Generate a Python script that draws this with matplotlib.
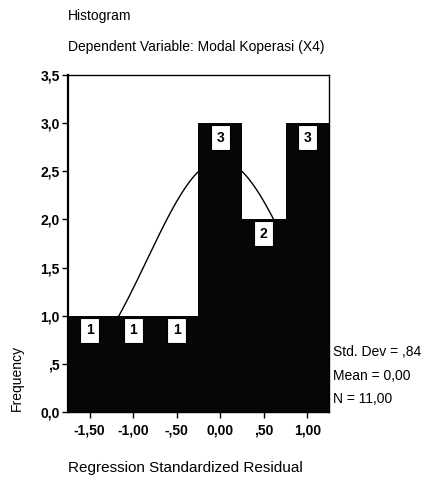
import numpy as np
import matplotlib
matplotlib.use("Agg")
import matplotlib.pyplot as plt

plt.rcParams['font.family'] = ['Liberation Sans', 'DejaVu Sans']

# Histogram of regression standardized residuals
bin_centers = [-1.50, -1.00, -0.50, 0.00, 0.50, 1.00]
counts = [1, 1, 1, 3, 2, 3]
bin_width = 0.5

std_dev = 0.84
mean = 0.00
n_obs = 11

y_ticks = [0.0, 0.5, 1.0, 1.5, 2.0, 2.5, 3.0, 3.5]
y_tick_labels = ["0,0", ",5", "1,0", "1,5", "2,0", "2,5", "3,0", "3,5"]
x_ticks = [-1.50, -1.00, -0.50, 0.00, 0.50, 1.00]
x_tick_labels = ["-1,50", "-1,00", "-,50", "0,00", ",50", "1,00"]

fig = plt.figure(figsize=(4.24, 4.79), dpi=100)
ax = fig.add_axes([68 / 424, 67 / 479, 261 / 424, 337 / 479])

x_lo = bin_centers[0] - bin_width / 2
x_hi = bin_centers[-1] + bin_width / 2

# fitted normal curve (drawn beneath the bars)
xs = np.linspace(x_lo, x_hi, 300)
scale = n_obs * bin_width / (std_dev * np.sqrt(2 * np.pi))
ys = scale * np.exp(-0.5 * ((xs - mean) / std_dev) ** 2)
ax.plot(xs, ys, color='black', lw=1.0, zorder=1)

ax.bar(bin_centers, counts, width=bin_width, color='#060606',
       edgecolor='#060606', linewidth=0, zorder=2)

for xc, c in zip(bin_centers, counts):
    ax.text(xc, c - 0.15, str(c), ha='center', va='center', fontsize=10,
            fontweight='bold', color='black', zorder=4,
            bbox=dict(boxstyle='square,pad=0.4', fc='white', ec='black', lw=0.8))

ax.set_xlim(x_lo, x_hi)
ax.set_ylim(0, 3.5)
ax.set_yticks(y_ticks)
ax.set_yticklabels(y_tick_labels)
ax.set_xticks(x_ticks)
ax.set_xticklabels(x_tick_labels)
ax.tick_params(axis='both', direction='out', length=4, width=1, labelsize=10)
ax.tick_params(axis='y', pad=2)
ax.tick_params(axis='x', pad=4)
for lbl in ax.get_xticklabels() + ax.get_yticklabels():
    lbl.set_fontweight('bold')

ax.spines['left'].set_linewidth(1.6)
ax.spines['top'].set_linewidth(1.0)
ax.spines['right'].set_linewidth(1.0)
ax.spines['bottom'].set_linewidth(1.0)

fig.text(68 / 424, 1 - 16 / 479, "Histogram", ha='left', va='center', fontsize=10)
fig.text(68 / 424, 1 - 47 / 479, "Dependent Variable: Modal Koperasi (X4)",
         ha='left', va='center', fontsize=10)
fig.text(17 / 424, 1 - 378 / 479, "Frequency", rotation=90, ha='center',
         va='center', fontsize=10)
fig.text(68 / 424, 1 - 468 / 479, "Regression Standardized Residual",
         ha='left', va='center', fontsize=11)

stats = [f"Std. Dev = ,{int(round(std_dev * 100))}",
         f"Mean = {mean:.2f}".replace('.', ','),
         f"N = {n_obs:.2f}".replace('.', ',')]
for i, s in enumerate(stats):
    fig.text(333 / 424, 1 - (352 + 23.5 * i) / 479, s, ha='left',
             va='center', fontsize=10)

fig.savefig("out.png", dpi=100)
